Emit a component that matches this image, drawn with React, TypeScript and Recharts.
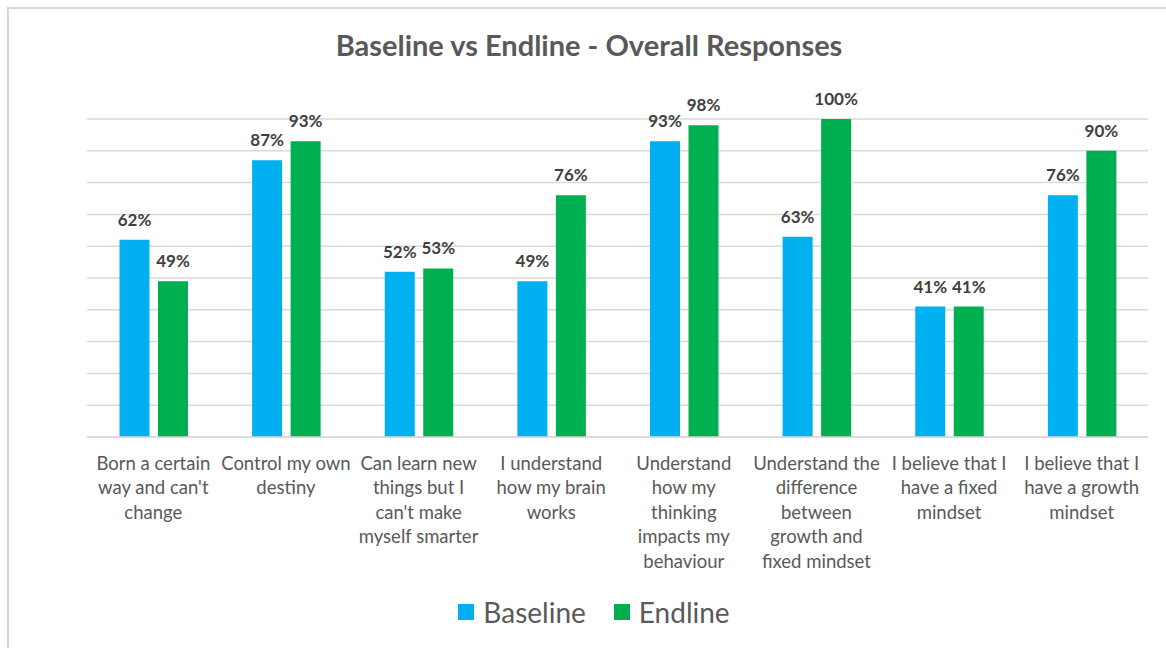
import { Bar, BarChart, CartesianGrid, LabelList, XAxis, YAxis } from "recharts";

const categories = [
  "Born a certain\nway and can't\nchange",
  "Control my own\ndestiny",
  "Can learn new\nthings but I\ncan't make\nmyself smarter",
  "I understand\nhow my brain\nworks",
  "Understand\nhow my\nthinking\nimpacts my\nbehaviour",
  "Understand the\ndifference\nbetween\ngrowth and\nfixed mindset",
  "I believe that I\nhave a fixed\nmindset",
  "I believe that I\nhave a growth\nmindset",
];
const baseline = [62, 87, 52, 49, 93, 63, 41, 76];
const endline = [49, 93, 53, 76, 98, 100, 41, 90];
const yTicks = [0, 10, 20, 30, 40, 50, 60, 70, 80, 90, 100];
const seriesNames = ["Baseline", "Endline"];

const data = categories.map((name, i) => ({ name, baseline: baseline[i], endline: endline[i] }));

const font = "Lato, 'Open Sans', sans-serif";
const BLUE = "#00B0F0";
const GREEN = "#00B050";
const seriesColors = [BLUE, GREEN];

function WrappedTick({ x, y, payload }: any) {
  const lines = String(payload.value).split("\n");
  return (
    <text x={x} y={y} textAnchor="middle" fill="#595959" fontSize={18.5} fontFamily={font}>
      {lines.map((line, i) => (
        <tspan key={i} x={x} dy={i === 0 ? 25 : 24.4}>
          {line}
        </tspan>
      ))}
    </text>
  );
}

const pct = (v: any) => `${v}%`;

export default function App() {
  return (
    <div style={{ position: "absolute", left: 0, top: 0, width: 1166, height: 648, background: "#fff" }}>
      <div
        style={{
          position: "absolute",
          left: 7,
          top: 7,
          width: 1159,
          height: 641,
          borderTop: "2px solid #d6d6d6",
          borderLeft: "2px solid #d6d6d6",
          boxSizing: "border-box",
        }}
      />
      <div
        style={{
          position: "absolute",
          left: 0,
          top: 27,
          width: 1178,
          textAlign: "center",
          fontFamily: font,
          fontWeight: 700,
          fontSize: 29,
          color: "#595959",
        }}
      >
        Baseline vs Endline - Overall Responses
      </div>
      <div style={{ position: "absolute", left: 0, top: 0 }}>
        <BarChart
          width={1166}
          height={648}
          data={data}
          margin={{ top: 119, right: 18, left: 87, bottom: 61 }}
          barCategoryGap="24.5%"
          barGap={8.5}
        >
          <CartesianGrid vertical={false} stroke="#d9d9d9" strokeWidth={1.5} />
          <XAxis
            dataKey="name"
            interval={0}
            axisLine={{ stroke: "#d9d9d9", strokeWidth: 1.5 }}
            tickLine={false}
            tick={<WrappedTick />}
            height={150}
          />
          <YAxis hide domain={[0, 100]} ticks={yTicks} />
          <Bar dataKey="baseline" name="Baseline" fill={BLUE} isAnimationActive={false}>
            <LabelList
              dataKey="baseline"
              position="top"
              offset={14}
              formatter={pct}
              fill="#404040"
              fontSize={17}
              fontWeight={700}
              fontFamily={font}
            />
          </Bar>
          <Bar dataKey="endline" name="Endline" fill={GREEN} isAnimationActive={false}>
            <LabelList
              dataKey="endline"
              position="top"
              offset={14}
              formatter={pct}
              fill="#404040"
              fontSize={17}
              fontWeight={700}
              fontFamily={font}
            />
          </Bar>
        </BarChart>
      </div>
      <div
        style={{
          position: "absolute",
          left: 0,
          top: 595,
          width: 1166,
          display: "flex",
          justifyContent: "center",
          alignItems: "center",
          paddingLeft: 22,
          boxSizing: "border-box",
        }}
      >
        {seriesNames.map((n, i) => (
          <div key={n} style={{ display: "flex", alignItems: "center", marginRight: i === 0 ? 28 : 0 }}>
            <span style={{ width: 16, height: 16, background: seriesColors[i], display: "inline-block", marginRight: 9 }} />
            <span style={{ fontSize: 28, color: "#595959", fontFamily: font }}>{n}</span>
          </div>
        ))}
      </div>
    </div>
  );
}
